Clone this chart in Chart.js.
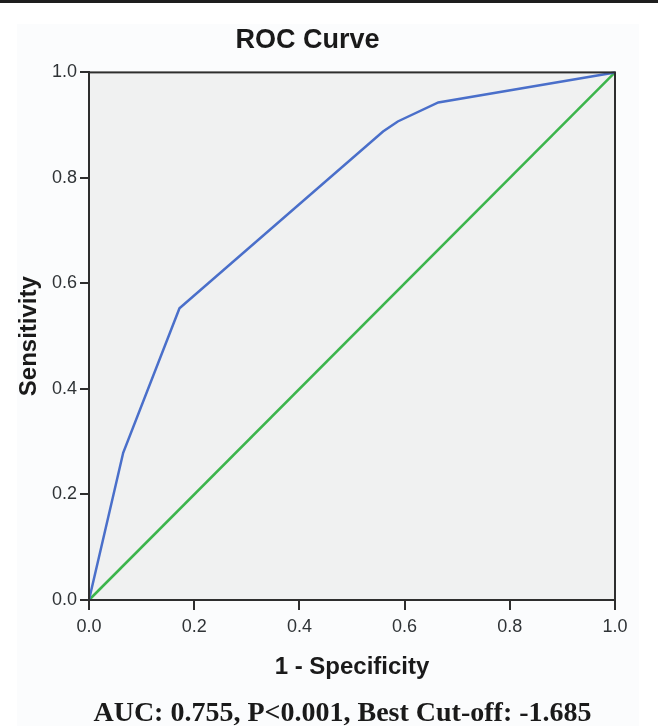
<!DOCTYPE html>
<html>
<head>
<meta charset="utf-8">
<script src="https://cdn.jsdelivr.net/npm/chart.js@4.4.1/dist/chart.umd.min.js"></script>
<style>
  html, body { margin: 0; padding: 0; background: #ffffff; }
  #wrap { position: relative; width: 661px; height: 726px; }
  #c { position: absolute; left: 0; top: 0; }
  #caption {
    position: absolute; left: 0; width: 685px; top: 696px;
    text-align: center; font-family: "Liberation Serif", "Times New Roman", serif;
    font-weight: bold; font-size: 28px; line-height: 32px; color: #1a1a1a;
  }
</style>
</head>
<body>
<div id="wrap">
  <canvas id="c" width="661" height="726"></canvas>
  <div id="caption">AUC: 0.755, P&lt;0.001, Best Cut-off: -1.685</div>
</div>
<script>
// ---- data ----
const rocFpr = [0, 0.065, 0.172, 0.559, 0.587, 0.664, 1];
const rocTpr = [0, 0.279, 0.553, 0.888, 0.907, 0.943, 1];
const refX = [0, 1];
const refY = [0, 1];
const tickValues = [0, 0.2, 0.4, 0.6, 0.8, 1.0];
const chartTitle = "ROC Curve";
const xTitle = "1 - Specificity";
const yTitle = "Sensitivity";

const rocPoints = rocFpr.map((x, i) => ({ x: x, y: rocTpr[i] }));
const refPoints = refX.map((x, i) => ({ x: x, y: refY[i] }));

const bgPlugin = {
  id: 'bg',
  beforeDraw(chart) {
    const ctx = chart.ctx;
    const a = chart.chartArea;
    ctx.save();
    ctx.fillStyle = '#ffffff';
    ctx.fillRect(0, 0, chart.width, chart.height);
    ctx.fillStyle = '#fbfcfd';
    ctx.fillRect(17, 24, 622, chart.height - 24);
    ctx.fillStyle = '#1e1e1e';
    ctx.fillRect(0, 0, 658, 3);
    ctx.fillStyle = '#f0f1f1';
    ctx.fillRect(a.left, a.top, a.right - a.left, a.bottom - a.top);
    ctx.restore();
  },
  afterDraw(chart) {
    const ctx = chart.ctx;
    const a = chart.chartArea;
    ctx.save();
    ctx.strokeStyle = '#2e2e2e';
    ctx.lineWidth = 2;
    ctx.strokeRect(a.left, a.top, a.right - a.left, a.bottom - a.top);
    ctx.restore();
  }
};

new Chart(document.getElementById('c'), {
  type: 'scatter',
  data: {
    datasets: [
      {
        data: rocPoints, showLine: true, borderColor: '#4a6fca', borderWidth: 2.5,
        pointRadius: 0, tension: 0, clip: false
      },
      {
        data: refPoints, showLine: true, borderColor: '#3cb54c', borderWidth: 2.5,
        pointRadius: 0, tension: 0, clip: false
      }
    ]
  },
  options: {
    responsive: false,
    animation: false,
    layout: { padding: { left: 0, right: 46, top: 0, bottom: 0 } },
    plugins: {
      legend: { display: false },
      tooltip: { enabled: false },
      title: {
        display: true, text: chartTitle, color: '#1a1a1a',
        font: { family: 'Liberation Sans, Arial, sans-serif', size: 27, weight: 'bold' },
        padding: { top: 24, bottom: 16 }
      }
    },
    scales: {
      x: {
        type: 'linear', min: 0, max: 1,
        afterBuildTicks(s) { s.ticks = tickValues.map(v => ({ value: v })); },
        afterFit(s) { s.height = 126; },
        ticks: {
          color: '#2f3336', padding: 6,
          font: { family: 'Liberation Sans, Arial, sans-serif', size: 18 },
          callback: v => Number(v).toFixed(1)
        },
        grid: { drawOnChartArea: false, drawTicks: true, tickLength: 10, color: '#2e2e2e', lineWidth: 2 },
        border: { display: true, color: '#2e2e2e', width: 2 },
        title: {
          display: true, text: xTitle, color: '#1a1a1a',
          font: { family: 'Liberation Sans, Arial, sans-serif', size: 24, weight: 'bold' },
          padding: { top: 0, bottom: 44 }
        }
      },
      y: {
        type: 'linear', min: 0, max: 1,
        afterBuildTicks(s) { s.ticks = tickValues.map(v => ({ value: v })); },
        afterFit(s) { s.width = 89; },
        ticks: {
          color: '#2f3336', padding: 3,
          font: { family: 'Liberation Sans, Arial, sans-serif', size: 18 },
          callback: v => Number(v).toFixed(1)
        },
        grid: { drawOnChartArea: false, drawTicks: true, tickLength: 9, color: '#2e2e2e', lineWidth: 2 },
        border: { display: true, color: '#2e2e2e', width: 2 },
        title: {
          display: true, text: yTitle, color: '#1a1a1a',
          font: { family: 'Liberation Sans, Arial, sans-serif', size: 24, weight: 'bold' },
          padding: { top: 15, bottom: 0 }
        }
      }
    }
  },
  plugins: [bgPlugin]
});
</script>
</body>
</html>
